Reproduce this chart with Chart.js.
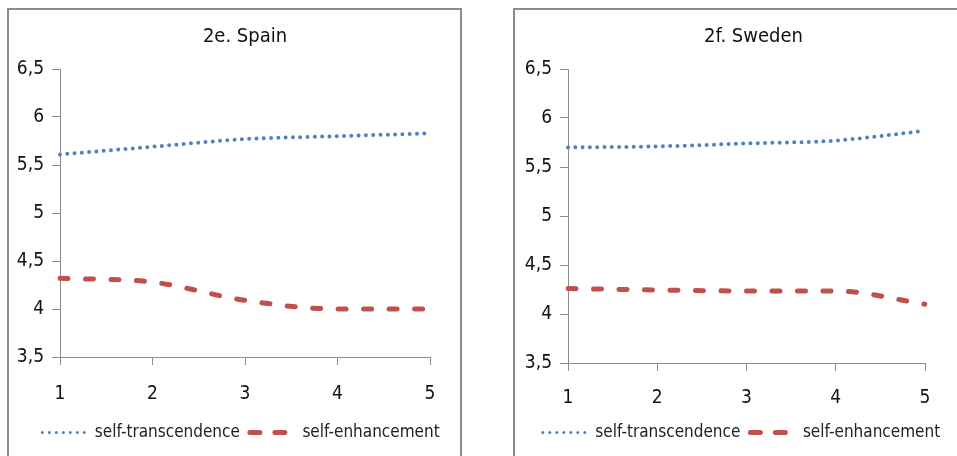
<!DOCTYPE html>
<html>
<head>
<meta charset="utf-8">
<script src="https://cdn.jsdelivr.net/npm/chart.js@4"></script>
<style>
    body { margin: 0; background: #fff; width: 957px; height: 456px; overflow: hidden; position: relative; }
    .panel { position: absolute; border: 2.5px solid #8c8c8c; background: #fff; }
    .wrap { position: absolute; }
</style>
</head>
<body>
<div class="panel" style="left:7px;top:8px;width:451px;height:470px;"></div>
<div class="panel" style="left:513px;top:8px;width:470px;height:470px;"></div>
<div class="wrap" style="left:10px;top:11px;width:448px;height:445px;"><canvas id="spain"></canvas></div>
<div class="wrap" style="left:516px;top:11px;width:441px;height:445px;"><canvas id="sweden"></canvas></div>
<script>
const waves = ["1", "2", "3", "4", "5"];
const yTicks = [3.5, 4, 4.5, 5, 5.5, 6, 6.5];

const spainTranscendence = [5.61, 5.69, 5.77, 5.80, 5.83];
const spainEnhancement = [4.32, 4.28, 4.09, 4.00, 4.00];

const swedenTranscendence = [5.70, 5.71, 5.74, 5.77, 5.87];
const swedenEnhancement = [4.26, 4.245, 4.235, 4.235, 4.10];

const FONT = "'DejaVu Sans Condensed', 'Liberation Sans', sans-serif";
const AXIS = "#8c8c8c";

// legend samples drawn a bit finer than the plotted lines
const legendStyle = [
    { width: 3, dash: [0, 7] },
    { width: 5, dash: [10, 15] },
];

const makeChart = (id, title, trans, enh, dims) => {
    // nudge title / legend sideways after layout, like the excel placement
    const nudge = {
        id: "nudge",
        afterLayout(chart) {
            chart.legend.left += dims.legendShift;
            chart.legend.right += dims.legendShift;
            chart.titleBlock.left += dims.titleShift;
            chart.titleBlock.right += dims.titleShift;
        },
    };
    new Chart(document.getElementById(id), {
        type: "line",
        plugins: [nudge],
        data: {
            labels: waves,
            datasets: [
                {
                    label: "self-transcendence",
                    data: trans,
                    borderColor: "#4f81bd",
                    backgroundColor: "#4f81bd",
                    borderWidth: 4,
                    borderDash: [0, 7.3],
                    borderCapStyle: "round",
                    pointRadius: 0,
                    tension: 0.4,
                    cubicInterpolationMode: "monotone",
                },
                {
                    label: "self-enhancement",
                    data: enh,
                    borderColor: "#c0504d",
                    backgroundColor: "#c0504d",
                    borderWidth: 5,
                    borderDash: [8, 17.5],
                    borderCapStyle: "round",
                    pointRadius: 0,
                    tension: 0.4,
                    cubicInterpolationMode: "monotone",
                },
            ],
        },
        options: {
            responsive: true,
            maintainAspectRatio: false,
            animation: false,
            layout: { padding: { top: 0, right: 0, bottom: 5, left: 0 } },
            plugins: {
                title: {
                    display: true,
                    text: title,
                    fullSize: false,
                    color: "#111",
                    font: { family: FONT, size: 20, weight: "normal" },
                    padding: { top: 14, bottom: 20 },
                },
                legend: {
                    position: "bottom",
                    labels: {
                        usePointStyle: true,
                        pointStyleWidth: 44,
                        color: "#222",
                        font: { family: FONT, size: 17 },
                        padding: 10,
                        generateLabels: (chart) => chart.data.datasets.map((ds, i) => ({
                            text: ds.label,
                            datasetIndex: i,
                            hidden: false,
                            pointStyle: "line",
                            fillStyle: ds.borderColor,
                            strokeStyle: ds.borderColor,
                            lineWidth: legendStyle[i].width,
                            lineDash: legendStyle[i].dash,
                            lineCap: "round",
                            fontColor: "#222",
                        })),
                    },
                },
                tooltip: { enabled: false },
            },
            scales: {
                x: {
                    offset: false,
                    afterFit: (scale) => {
                        scale.height = dims.xHeight;
                        scale.paddingRight = dims.right;
                    },
                    grid: { drawOnChartArea: false, drawTicks: true, tickLength: 8, color: AXIS },
                    border: { display: true, color: AXIS, width: 1 },
                    ticks: { color: "#111", padding: dims.xPad, font: { family: FONT, size: 19 }, maxRotation: 0 },
                },
                y: {
                    min: 3.5,
                    max: 6.5,
                    afterFit: (scale) => { scale.width = dims.yWidth; },
                    afterBuildTicks: (scale) => { scale.ticks = yTicks.map((v) => ({ value: v })); },
                    grid: { drawOnChartArea: false, drawTicks: true, tickLength: 8, color: AXIS },
                    border: { display: true, color: AXIS, width: 1 },
                    ticks: {
                        color: "#111",
                        padding: 8,
                        font: { family: FONT, size: 19 },
                        callback: (v) => String(v).replace(".", ","),
                    },
                },
            },
        },
    });
};

makeChart("spain", "2e. Spain", spainTranscendence, spainEnhancement,
    { right: 28, xHeight: 57, xPad: 18, yWidth: 50, legendShift: 7, titleShift: 0 });
makeChart("sweden", "2f. Sweden", swedenTranscendence, swedenEnhancement,
    { right: 32, xHeight: 51, xPad: 16, yWidth: 52, legendShift: 5, titleShift: 7 });
</script>
</body>
</html>
